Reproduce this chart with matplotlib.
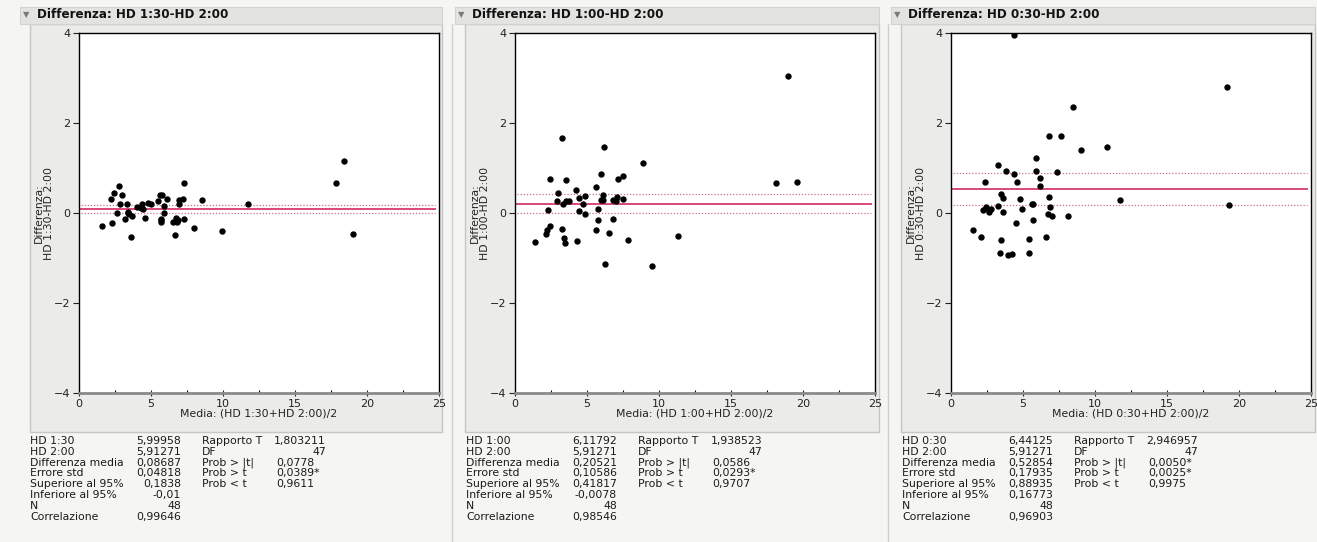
import matplotlib.pyplot as plt
from matplotlib.patches import Rectangle
from matplotlib.lines import Line2D

# --- data ------------------------------------------------------------------
titles = ["Differenza: HD 1:30-HD 2:00", "Differenza: HD 1:00-HD 2:00", "Differenza: HD 0:30-HD 2:00"]
ylabels = ["Differenza:\nHD 1:30-HD 2:00", "Differenza:\nHD 1:00-HD 2:00", "Differenza:\nHD 0:30-HD 2:00"]
xlabels = ["Media: (HD 1:30+HD 2:00)/2", "Media: (HD 1:00+HD 2:00)/2", "Media: (HD 0:30+HD 2:00)/2"]

mean_130 = [1.62, 2.27, 2.22, 2.45, 2.75, 2.99, 2.85, 2.62, 3.31, 3.19, 3.43, 3.50, 3.66, 3.59,
            4.00, 4.35, 4.47, 4.56, 4.82, 4.98, 5.51, 5.63, 5.79, 5.93, 5.90, 5.69, 5.69, 6.13,
            6.55, 6.74, 6.83, 6.69, 6.97, 6.94, 7.24, 7.27, 7.29, 7.99, 8.52, 9.91, 11.71,
            17.82, 18.38, 19.00, 3.40, 5.70, 6.90, 4.30]
diff_130 = [-0.29, -0.23, 0.32, 0.44, 0.61, 0.39, 0.21, -0.01, 0.19, -0.14, 0.03, -0.02, -0.07, -0.54,
            0.13, 0.20, 0.08, -0.12, 0.23, 0.19, 0.27, 0.40, 0.40, 0.16, -0.01, -0.13, -0.20, 0.32,
            -0.21, -0.10, -0.19, -0.49, 0.29, 0.21, 0.32, 0.67, -0.13, -0.33, 0.29, -0.40, 0.19,
            0.67, 1.15, -0.46, 0.00, -0.15, -0.15, 0.12]

mean_100 = [3.29, 6.18, 8.91, 5.99, 7.13, 7.48, 2.43, 3.56, 5.65, 4.21, 2.99, 4.86, 4.42, 2.89,
            3.36, 3.52, 3.75, 4.75, 4.44, 4.88, 2.27, 5.74, 5.74, 6.09, 6.00, 6.11, 6.83, 7.06,
            7.50, 7.01, 6.83, 5.60, 6.55, 7.82, 2.45, 2.20, 2.15, 1.39, 3.26, 3.43, 3.50, 4.28,
            6.27, 9.49, 11.34, 18.98, 18.13, 19.56]
diff_100 = [1.67, 1.46, 1.12, 0.87, 0.76, 0.83, 0.75, 0.74, 0.58, 0.52, 0.44, 0.38, 0.33, 0.26,
            0.19, 0.26, 0.27, 0.19, 0.04, -0.03, 0.06, 0.10, -0.16, 0.39, 0.28, 0.30, 0.29, 0.35,
            0.32, 0.27, -0.14, -0.38, -0.45, -0.59, -0.29, -0.38, -0.47, -0.65, -0.35, -0.55, -0.66, -0.63,
            -1.13, -1.17, -0.51, 3.05, 0.66, 0.70]

mean_030 = [6.81, 7.62, 9.03, 10.81, 5.93, 3.29, 3.84, 4.38, 5.88, 7.36, 6.18, 6.18, 2.38, 4.56,
            3.47, 3.59, 4.79, 6.83, 6.90, 5.65, 3.26, 4.91, 3.59, 2.25, 2.43, 2.62, 2.76, 6.76,
            7.04, 8.10, 5.69, 4.49, 1.55, 2.10, 3.45, 5.42, 6.62, 3.40, 3.94, 4.21, 5.40, 11.74,
            4.40, 8.50, 19.17, 19.31, 2.45, 5.70]
diff_030 = [1.71, 1.72, 1.39, 1.47, 1.22, 1.07, 0.93, 0.86, 0.93, 0.91, 0.77, 0.60, 0.68, 0.68,
            0.42, 0.34, 0.31, 0.36, 0.13, 0.19, 0.16, 0.09, 0.02, 0.06, 0.11, 0.02, 0.09, -0.03,
            -0.07, -0.07, -0.16, -0.22, -0.37, -0.53, -0.60, -0.57, -0.53, -0.88, -0.93, -0.91, -0.88, 0.30,
            3.96, 2.36, 2.80, 0.18, 0.14, 0.20]

# mean difference, upper / lower 95% limits
diff_mean = [0.08687, 0.20521, 0.52854]
upper_95 = [0.1838, 0.41817, 0.88935]
lower_95 = [-0.01, -0.0078, 0.16773]

stat_labels = ["HD 1:30", "HD 2:00", "Differenza media", "Errore std",
               "Superiore al 95%", "Inferiore al 95%", "N", "Correlazione"]
first_names = ["HD 1:30", "HD 1:00", "HD 0:30"]
left_vals = [
    ["5,99958", "5,91271", "0,08687", "0,04818", "0,1838", "-0,01", "48", "0,99646"],
    ["6,11792", "5,91271", "0,20521", "0,10586", "0,41817", "-0,0078", "48", "0,98546"],
    ["6,44125", "5,91271", "0,52854", "0,17935", "0,88935", "0,16773", "48", "0,96903"],
]
test_labels = ["Rapporto T", "DF", "Prob > |t|", "Prob > t", "Prob < t"]
t_ratio = ["1,803211", "1,938523", "2,946957"]
df_vals = ["47", "47", "47"]
p_two = ["0,0778", "0,0586", "0,0050*"]
p_gt = ["0,0389*", "0,0293*", "0,0025*"]
p_lt = ["0,9611", "0,9707", "0,9975"]

xs = [mean_130, mean_100, mean_030]
ys = [diff_130, diff_100, diff_030]

# --- layout (pixels) --------------------------------------------------------
W, H = 1317, 542
plot_left = [79, 515, 951]
plot_w, plot_top, plot_bot = 360, 33, 393
box_left = [30, 465, 901]
box_right = [442, 879, 1315]
row_y0, row_dy = 441, 10.8
txt = '#1a1a1a'


def fx(p):
    return p / W


def fy(p):
    return 1 - p / H


plt.rcParams['font.family'] = 'DejaVu Sans'
fig = plt.figure(figsize=(W / 100, H / 100), dpi=100, facecolor='#f5f5f3')

# thin separators between the report columns
for sx in [452, 888]:
    fig.lines.append(Line2D([fx(sx), fx(sx)], [fy(24), fy(542)], transform=fig.transFigure,
                            color='#d0d0ce', lw=1, zorder=-6))

for i in range(3):
    bl, br = box_left[i], box_right[i]
    # panel box
    fig.patches.append(Rectangle((fx(bl), fy(432)), fx(br - bl), (432 - 24) / H,
                                 transform=fig.transFigure, facecolor='#ebebe9',
                                 edgecolor='#c6c6c4', lw=1, zorder=-5))
    # header bar
    fig.patches.append(Rectangle((fx(bl - 10), fy(24)), fx(br - bl + 10), 17 / H,
                                 transform=fig.transFigure, facecolor='#e3e3e1',
                                 edgecolor='#d2d2d0', lw=0.8, zorder=-5))
    fig.text(fx(bl - 4), fy(15), "\u25bc", fontsize=6, color='#7a7a7a', ha='center', va='center')
    fig.text(fx(bl + 7), fy(15), titles[i], fontsize=8.6, fontweight='bold', ha='left',
             va='center', color='#111111')

    ax = fig.add_axes([fx(plot_left[i]), fy(plot_bot), plot_w / W, (plot_bot - plot_top) / H])
    ax.set_facecolor('white')
    ax.scatter(xs[i], ys[i], s=21, color='black', zorder=3, linewidths=0)
    ax.axhline(diff_mean[i], color='#d9477a', lw=1.4, xmin=0.005, xmax=0.99, zorder=2)
    ax.axhline(upper_95[i], color='#c8708c', lw=0.9, ls=(0, (1, 1.5)), xmin=0.005, xmax=0.99, zorder=2)
    ax.axhline(lower_95[i], color='#c8708c', lw=0.9, ls=(0, (1, 1.5)), xmin=0.005, xmax=0.99, zorder=2)
    ax.set_xlim(0, 25)
    ax.set_ylim(-4, 4)
    ax.set_xticks([0, 5, 10, 15, 20, 25])
    ax.set_xticks([2.5, 7.5, 12.5, 17.5, 22.5], minor=True)
    ax.set_yticks([-4, -2, 0, 2, 4])
    ax.tick_params(axis='both', labelsize=8, colors='#222222', length=4, width=0.8, pad=2)
    ax.tick_params(axis='x', which='major', direction='inout', length=4)
    ax.tick_params(axis='x', which='minor', direction='in', length=2.5, width=0.8)
    for side in ['left', 'top', 'right']:
        ax.spines[side].set_color('black')
        ax.spines[side].set_linewidth(1)
    ax.spines['bottom'].set_color('#8a8a8a')
    ax.spines['bottom'].set_linewidth(2)
    ax.set_xlabel(xlabels[i], fontsize=7.8, labelpad=0, color='#222222')
    fig.text(fx(plot_left[i] - 35), fy(213), ylabels[i], rotation=90, fontsize=7.8,
             ha='center', va='center', color='#222222', multialignment='center',
             linespacing=1.0)

    # statistics table
    t0 = plot_left[i] - 49
    for r, lab in enumerate(stat_labels):
        y = fy(row_y0 + row_dy * r)
        name = first_names[i] if r == 0 else lab
        fig.text(fx(t0), y, name, fontsize=7.8, ha='left', va='center', color=txt)
        fig.text(fx(t0 + 151), y, left_vals[i][r], fontsize=7.8, ha='right', va='center', color=txt)
    right_vals = [t_ratio[i], df_vals[i], p_two[i], p_gt[i], p_lt[i]]
    for r, lab in enumerate(test_labels):
        y = fy(row_y0 + row_dy * r)
        fig.text(fx(t0 + 172), y, lab, fontsize=7.8, ha='left', va='center', color=txt)
        if r < 2:
            fig.text(fx(t0 + 296), y, right_vals[r], fontsize=7.8, ha='right', va='center', color=txt)
        else:
            fig.text(fx(t0 + 246), y, right_vals[r], fontsize=7.8, ha='left', va='center', color=txt)

fig.savefig("out.png", dpi=100, facecolor=fig.get_facecolor())
